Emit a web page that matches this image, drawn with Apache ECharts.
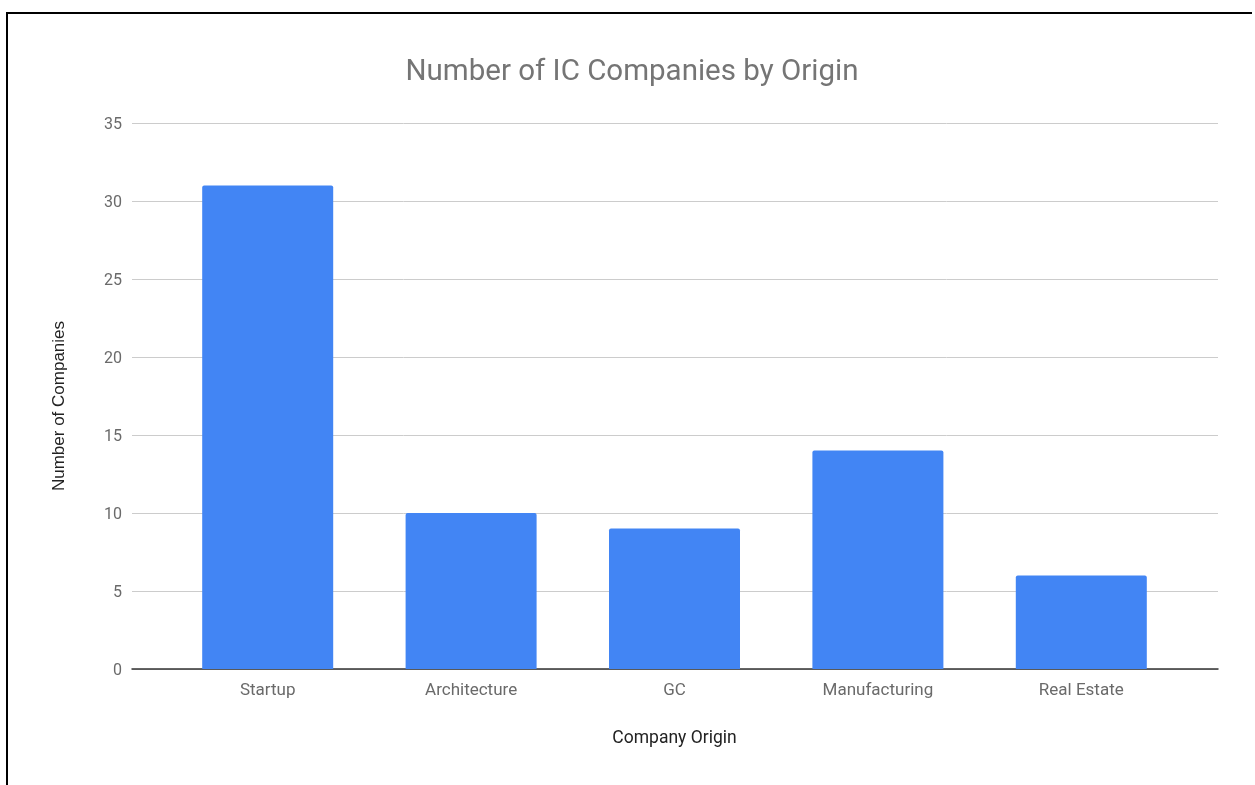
<!DOCTYPE html>
<html>
<head>
<meta charset="utf-8">
<script src="https://cdn.jsdelivr.net/npm/echarts@6/dist/echarts.min.js"></script>
<style>
  html, body { margin: 0; padding: 0; background: #fff; }
  #frame { position: absolute; left: 6px; top: 12px; width: 1244px; height: 773px;
           border-left: 2px solid #000; border-top: 2px solid #000; }
  #chart { position: absolute; left: 0; top: 0; width: 1255px; height: 785px; }
</style>
</head>
<body>
<div id="chart"></div>
<div id="frame"></div>
<script>
const titleText = 'Number of IC Companies by Origin';
const xAxisTitle = 'Company Origin';
const yAxisTitle = 'Number of Companies';
const categories = ['Startup', 'Architecture', 'GC', 'Manufacturing', 'Real Estate'];
const companyCounts = [31, 10, 9, 14, 6];
const yTicks = { min: 0, max: 35, interval: 5 };

const chart = echarts.init(document.getElementById('chart'), null, { renderer: 'canvas' });
chart.setOption({
  backgroundColor: '#ffffff',
  animation: false,
  title: {
    text: titleText,
    left: 627, top: 53, textAlign: 'center',
    textStyle: { fontFamily: 'Roboto', fontSize: 29.5, fontWeight: 'normal', color: '#757575' }
  },
  grid: [
    { left: 132, right: 37, top: 123, bottom: 116 },
    { left: 166, right: 72, top: 123, bottom: 116 }
  ],
  xAxis: [
    { type: 'category', gridIndex: 0, data: categories,
      axisLine: { show: true, lineStyle: { color: '#333333', width: 1.5 } },
      axisTick: { show: false }, axisLabel: { show: false }, splitLine: { show: false } },
    { type: 'category', gridIndex: 1, data: categories,
      name: xAxisTitle, nameLocation: 'middle', nameGap: 61,
      nameTextStyle: { fontFamily: 'Roboto', fontSize: 17.5, color: '#222222' },
      axisLine: { show: false }, axisTick: { show: false },
      axisLabel: { fontFamily: 'Roboto', fontSize: 17, color: '#6a6a6a', margin: 13 } }
  ],
  yAxis: [
    { type: 'value', gridIndex: 0, min: yTicks.min, max: yTicks.max, interval: yTicks.interval,
      name: yAxisTitle, nameLocation: 'middle', nameGap: 64, nameRotate: 90,
      nameTextStyle: { fontFamily: 'Liberation Sans', fontSize: 17, color: '#222222', padding: [0, 0, 0, -20] },
      axisLine: { show: false }, axisTick: { show: false },
      axisLabel: { fontFamily: 'Roboto', fontSize: 16, color: '#6a6a6a', margin: 10,
                   verticalAlign: 'top', lineHeight: 4 },
      splitLine: { lineStyle: { color: '#cccccc', width: 1 } } },
    { type: 'value', gridIndex: 1, min: yTicks.min, max: yTicks.max, interval: yTicks.interval,
      show: false, splitLine: { show: false } }
  ],
  series: [{
    type: 'bar', xAxisIndex: 1, yAxisIndex: 1,
    data: companyCounts, barWidth: 131,
    itemStyle: { color: '#4285F4', borderRadius: [2, 2, 0, 0] }
  }]
});
</script>
</body>
</html>
